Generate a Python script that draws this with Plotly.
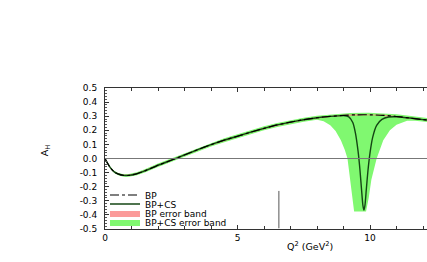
import plotly.graph_objects as go

# ---------------- data ----------------
q2_bp = [0, 0.1, 0.2, 0.35, 0.5, 0.7, 0.9, 1.2, 1.5, 2.0, 2.5, 3.0, 3.5, 4.0, 4.5, 5.0,
         5.5, 6.0, 6.5, 7.0, 7.5, 8.0, 8.5, 9.0, 9.5, 10.0, 10.5, 11.0, 11.5, 12.0, 12.2]
a_bp = [0, -0.035, -0.065, -0.095, -0.11, -0.12, -0.12, -0.108, -0.088, -0.048, -0.012, 0.025,
        0.063, 0.098, 0.13, 0.158, 0.187, 0.214, 0.238, 0.258, 0.275, 0.289, 0.299, 0.306,
        0.31, 0.31, 0.306, 0.298, 0.287, 0.276, 0.272]
bp_err = [0.001, 0.002, 0.003, 0.003, 0.004, 0.004, 0.004, 0.004, 0.004, 0.004, 0.004, 0.004,
          0.004, 0.004, 0.004, 0.004, 0.004, 0.004, 0.004, 0.004, 0.004, 0.004, 0.004, 0.004,
          0.004, 0.004, 0.004, 0.004, 0.004, 0.004, 0.004]

q2_bpcs = [0, 0.1, 0.2, 0.35, 0.5, 0.7, 0.9, 1.2, 1.5, 2.0, 2.5, 3.0, 3.5, 4.0, 4.5, 5.0,
           5.5, 6.0, 6.5, 7.0, 7.5, 8.0, 8.5, 9.0, 9.2, 9.35, 9.45, 9.55, 9.62, 9.68, 9.73,
           9.77, 9.81, 9.86, 9.92, 10.0, 10.1, 10.25, 10.45, 10.7, 11.0, 11.5, 12.0, 12.2]
a_bpcs = [0, -0.035, -0.065, -0.095, -0.11, -0.12, -0.12, -0.108, -0.088, -0.048, -0.012, 0.025,
          0.063, 0.098, 0.13, 0.158, 0.187, 0.214, 0.238, 0.258, 0.275, 0.289, 0.299, 0.304,
          0.295, 0.255, 0.18, 0.05, -0.08, -0.22, -0.33, -0.365, -0.33, -0.22, -0.09, 0.04,
          0.15, 0.235, 0.277, 0.294, 0.296, 0.287, 0.276, 0.272]

q2_band = [0, 0.1, 0.2, 0.35, 0.5, 0.7, 0.9, 1.2, 1.5, 2.0, 2.5, 3.0, 3.5, 4.0, 4.5, 5.0,
           5.5, 6.0, 6.5, 7.0, 7.5, 8.0, 8.25, 8.5, 8.7, 8.9, 9.05, 9.15, 9.25, 9.33, 9.4,
           9.85, 9.95, 10.05, 10.25, 10.5, 10.75, 11.0, 11.4, 11.7, 12.0, 12.2]
band_lo = [-0.002, -0.04, -0.071, -0.102, -0.118, -0.129, -0.13, -0.119, -0.099, -0.06, -0.024,
           0.012, 0.05, 0.085, 0.116, 0.144, 0.173, 0.2, 0.224, 0.244, 0.261, 0.275, 0.265,
           0.235, 0.195, 0.13, 0.06, 0.0, -0.15, -0.28, -0.375, -0.375, -0.28, -0.15, 0.0,
           0.13, 0.2, 0.24, 0.268, 0.268, 0.262, 0.258]
band_hi = [0.002, -0.03, -0.059, -0.088, -0.102, -0.111, -0.11, -0.097, -0.077, -0.036, 0.0,
           0.038, 0.076, 0.111, 0.144, 0.172, 0.201, 0.228, 0.252, 0.272, 0.289, 0.303, 0.308,
           0.312, 0.316, 0.318, 0.32, 0.321, 0.322, 0.323, 0.324, 0.325, 0.325, 0.324, 0.322,
           0.32, 0.317, 0.313, 0.305, 0.298, 0.29, 0.286]

y_ticks = [-0.5, -0.4, -0.3, -0.2, -0.1, 0.0, 0.1, 0.2, 0.3, 0.4, 0.5]
y_ticklabels = ["-0.5", "-0.4", "-0.3", "-0.2", "-0.1", "0.0", "0.1", "0.2", "0.3", "0.4", "0.5"]
x_ticks = [0, 5, 10]
x_ticklabels = ["0", "5", "10"]

FONT = "DejaVu Sans"

# ---------------- figure ----------------
fig = go.Figure()

# BP+CS error band (green)
fig.add_trace(go.Scatter(
    x=q2_band + q2_band[::-1], y=band_hi + band_lo[::-1],
    fill="toself", fillcolor="rgb(128,248,112)", line=dict(width=0, color="rgb(128,248,112)"),
    mode="lines", name="BP+CS error band", legend="legend4", hoverinfo="skip"))

# BP error band (red)
bp_hi = [v + e for v, e in zip(a_bp, bp_err)]
bp_lo = [v - e for v, e in zip(a_bp, bp_err)]
fig.add_trace(go.Scatter(
    x=q2_bp + q2_bp[::-1], y=bp_hi + bp_lo[::-1],
    fill="toself", fillcolor="rgba(250,120,120,0.75)", line=dict(width=0, color="rgb(250,130,130)"),
    mode="lines", name="BP error band", legend="legend3", hoverinfo="skip"))

# BP+CS line
fig.add_trace(go.Scatter(
    x=q2_bpcs, y=a_bpcs, mode="lines", name="BP+CS",
    line=dict(color="rgb(20,70,20)", width=1.4, shape="spline", smoothing=0.6),
    legend="legend2"))

# BP line
fig.add_trace(go.Scatter(
    x=q2_bp, y=a_bp, mode="lines", name="BP",
    line=dict(color="black", width=1.2, dash="dashdot", shape="spline", smoothing=0.6),
    legend="legend"))

def leg(yc):
    return dict(x=0.0, xanchor="left", y=(229 - yc) / 141, yanchor="middle",
                bgcolor="rgba(0,0,0,0)", borderwidth=0,
                font=dict(family=FONT, size=9, color="black"),
                itemwidth=30, tracegroupgap=0)

fig.update_layout(
    width=427, height=262,
    margin=dict(l=105, r=0, t=88, b=33),
    paper_bgcolor="white", plot_bgcolor="white",
    font=dict(family=FONT, size=8, color="black"),
    showlegend=True,
    legend=leg(195), legend2=leg(204), legend3=leg(213), legend4=leg(222),
    xaxis=dict(range=[0, 12.15], showgrid=False, zeroline=False,
               showline=True, linecolor="#333", linewidth=1, mirror="ticks",
               ticks="inside", ticklen=4, tickcolor="#333",
               tickvals=x_ticks, ticktext=x_ticklabels,
               minor=dict(dtick=1, ticks="inside", ticklen=3, tickcolor="#333"),
               tickfont=dict(family=FONT, size=9)),
    yaxis=dict(range=[-0.5, 0.5], showgrid=False, zeroline=False,
               showline=True, linecolor="#333", linewidth=1,
               ticks="inside", ticklen=4, tickcolor="#333",
               tickvals=y_ticks, ticktext=y_ticklabels,
               minor=dict(dtick=0.02, ticks="inside", ticklen=2, tickcolor="#555"),
               tickfont=dict(family=FONT, size=9), ticklabelstandoff=5),
)

# zero reference line above the bands
fig.add_shape(type="line", xref="paper", x0=0, x1=1, yref="y", y0=0, y1=0,
              line=dict(color="#777", width=1), layer="above")
# legend right border
fig.add_shape(type="line", xref="paper", x0=0.54, x1=0.54, yref="paper", y0=0.005, y1=0.27,
              line=dict(color="#555", width=1), layer="above")

fig.add_annotation(text="Q<sup>2</sup> (GeV<sup>2</sup>)", xref="paper", yref="paper",
                   x=0.637, y=-0.12, xanchor="center", yanchor="middle", showarrow=False,
                   font=dict(family=FONT, size=9.5))
fig.add_annotation(text="A<sub>H</sub>", xref="paper", yref="paper",
                   x=-0.186, y=0.56, xanchor="center", yanchor="middle", showarrow=False,
                   textangle=-90, font=dict(family=FONT, size=9.5))

fig.write_html("out.html", config={"displayModeBar": False},
               post_script="document.body.style.margin='0px';document.body.style.overflow='hidden';")
